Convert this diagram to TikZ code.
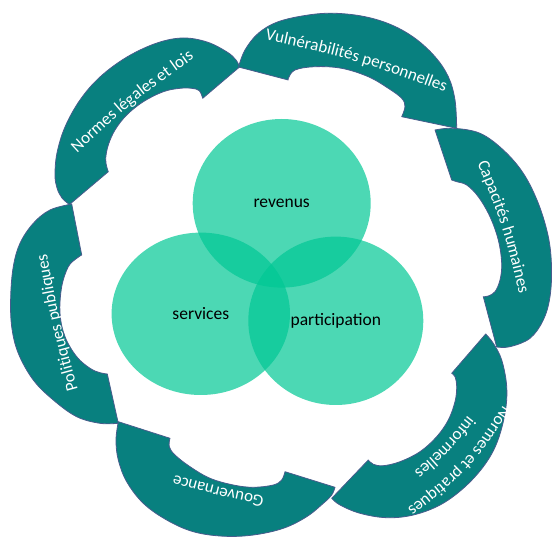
\documentclass[tikz,border=0pt]{standalone}
\usepackage{fontspec}
\setmainfont{Carlito}
\usetikzlibrary{decorations.text,shapes.geometric}
\definecolor{petal}{RGB}{8,128,127}
\definecolor{petalline}{RGB}{72,92,140}
\definecolor{venn}{RGB}{0,199,148}
\newcommand{\arcfont}{\fontsize{17}{20}\selectfont\color{white}}
\begin{document}
\begin{tikzpicture}[x=1pt,y=-1pt,
  petalshape/.style={fill=petal, draw=petalline, line width=0.8pt, line join=round},
  vennshape/.style={ellipse, fill=venn, fill opacity=0.7, text opacity=1, draw=none, inner sep=0pt,
    font=\fontsize{17.5}{20}\selectfont, text=black},
  arctext/.style={decorate, decoration={text along path, text align=center, text={|\arcfont|#1}}}
]
\useasboundingbox (0,0) rectangle (552,537);

% --- petals ---
% Normes légales et lois
\path[petalshape] plot[smooth, tension=0.6] coordinates {(69.5,204.5) (62,198) (57,188) (55,175) (57,153) (65,127) (80,100) (100,77) (127,57) (157,43) (183,38) (207,42) (227,52) (236,60) (239.5,67)}
  -- plot[smooth, tension=0.6] coordinates {(202.7,98.3) (199.3,90.7) (191.7,88.3) (180,88.3) (163.3,91.7) (143.3,101.7) (126.7,115) (115,130) (108.3,145) (105.7,158.3) (106.7,166.7) (108.3,171.7)} -- cycle;
% Vulnérabilités personnelles
\path[petalshape] plot[smooth, tension=0.6] coordinates {(238.5,67) (245,50) (258.3,33.3) (278.3,21.7) (308.3,15) (335,13.3) (365,16.7) (391.7,25) (415,38.3) (435,56.7) (448.3,76.7) (455,100) (456.7,128.3)}
  -- plot[smooth, tension=0.6] coordinates {(401.7,116.7) (405,106.7) (401.7,98.3) (388.3,88.3) (368.3,76.7) (341.7,68.3) (315,66.7) (295,70) (288.3,78.3) (288.3,80)} -- cycle;
% Capacités humaines
\path[petalshape] plot[smooth, tension=0.6] coordinates {(435,130) (453.3,128.3) (480,133.3) (503.3,150) (523.3,173.3) (538.3,203.3) (548.3,236.7) (551.5,266.7) (550,296.7) (543.3,320) (530,338.3) (510,346.7) (496.7,347)}
  -- plot[smooth, tension=0.6] coordinates {(483.3,296.7) (488.3,296) (495,291.7) (500,280) (501.7,263.3) (498.3,240) (490,216.7) (478.3,196.7) (466.7,185) (456.7,181.7) (451.7,180)} -- cycle;
% Normes et pratiques informelles
\path[petalshape] plot[smooth, tension=0.6] coordinates {(485.7,334) (493.3,343.3) (501.7,360) (506.7,386.7) (505,413.3) (496.7,443.3) (483.3,466.7) (463.3,488.3) (440,505) (413.3,515) (386.7,517.7) (360,513.3) (340,505) (331.7,498.3)}
  -- plot[smooth, tension=0.6] coordinates {(368.3,460) (373.3,464.3) (383.3,465.7) (400,461.7) (420,451.7) (436.7,436.7) (448.3,420) (455,401.7) (456.7,386.7) (455,376.7) (451.7,373.3)} -- cycle;
% Gouvernance
\path[petalshape] plot[smooth, tension=0.6] coordinates {(118.3,421.7) (116,440) (118.3,460) (126.7,481.7) (143.3,503.3) (166.7,520) (193.3,531.7) (223.3,536.2) (253.3,535) (283.3,528.3) (306.7,516.7) (323.3,503.3) (331.7,495) (335,487.3)}
  -- plot[smooth, tension=0.6] coordinates {(285,471.7) (281.7,480) (273.3,485) (253.3,487.3) (233.3,485) (210,478.3) (190,466.7) (175,455) (169.3,446.7) (170,438.3)} -- cycle;
% Politiques publiques
\path[petalshape] plot[smooth, tension=0.6] coordinates {(71.7,204) (50,210) (33.3,223.3) (20,243.3) (13.3,266.7) (10.7,296.7) (11.7,326.7) (18.3,353.3) (33.3,380) (53.3,400) (76.7,416.7) (100,423.3) (118.3,423.3)}
  -- plot[smooth, tension=0.6] coordinates {(107.3,374) (100,372.7) (90,368.3) (76.7,356.7) (65,336.7) (60,313.3) (61.7,286.7) (68.3,266.7) (76.7,258.3) (81.7,255)} -- cycle;

% --- texts along the petals ---
\path[arctext={Normes légales et lois}] (62.5,166.6) .. controls (132.7,101.8) .. (210.5,46.4);
\path[arctext={Vulnérabilités personnelles}] (246.1,35.9) .. controls (356.7,59.6) .. (462.8,98.7);
\path[arctext={Capacités humaines}] (470.8,147.4) .. controls (503.4,226.9) .. (523,310.6);
\path[arctext={Normes et pratiques}] (509.9,395.2) .. controls (463.9,465.2) .. (397.7,516.3);
\path[arctext={informelles}] (478.6,402.1) .. controls (444,446.5) .. (400.8,482.6);
\path[arctext={Gouvernance}] (280.6,499.8) .. controls (218.9,487.5) .. (158.5,470.4);
\path[arctext={Politiques publiques}] (82.6,406.7) .. controls (59.3,322.3) .. (43.8,236.1);

% --- Venn circles ---
\node[vennshape, minimum width=178pt, minimum height=168.6pt] (rev) at (281.7,203.3) {revenus};
\node[vennshape, minimum width=178.4pt, minimum height=162.4pt] (serv) at (200.8,313.8) {services};
\node[vennshape, minimum width=175pt, minimum height=168.4pt] (part) at (335.8,320.8) {participation};
\end{tikzpicture}
\end{document}
